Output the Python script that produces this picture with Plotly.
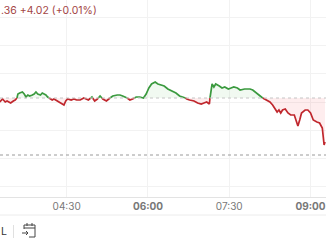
import plotly.graph_objects as go
import pandas as pd

DAY = "2024-01-01 "

times = ["03:16","03:18","03:19","03:22","03:24","03:26","03:28","03:31","03:33","03:35",
         "03:36","03:38","03:41","03:43","03:45","03:47","03:49","03:52","03:54","03:56",
         "03:58","04:01","04:03","04:05","04:07","04:09","04:12","04:14","04:16","04:18",
         "04:20","04:23","04:25","04:27","04:29","04:31","04:35","04:38","04:41","04:45",
         "04:49","04:54","04:58","05:01","05:04","05:07","05:10","05:14","05:18","05:21",
         "05:26","05:29","05:32","05:37","05:40","05:43","05:47","05:51","05:55","05:58",
         "06:01","06:04","06:08","06:11","06:14","06:18","06:22","06:27","06:31","06:35",
         "06:40","06:43","06:46","06:51","06:55","06:59","07:02","07:05","07:08","07:10",
         "07:11","07:13","07:15","07:19","07:22","07:25","07:29","07:32","07:35","07:39",
         "07:42","07:47","07:53","07:56","08:00","08:04","08:07","08:12","08:15","08:18",
         "08:21","08:23","08:25","08:27","08:29","08:32","08:35","08:38","08:42","08:45",
         "08:46","08:48","08:50","08:54","08:57","09:00","09:03","09:07","09:10","09:13",
         "09:14","09:15","09:16"]

values = [40298,40300,40301,40298,40299,40298,40297,40299,40300,40302,
          40306,40307,40308,40306,40303,40305,40304,40305,40306,40308,
          40306,40305,40307,40306,40305,40303,40301,40300,40301,40300,
          40299,40297,40296,40295,40299,40301,40300,40301,40300,40300,
          40302,40300,40303,40299,40301,40304,40301,40299,40302,40304,
          40305,40305,40304,40302,40300,40301,40303,40303,40302,40306,
          40312,40316,40318,40316,40315,40314,40311,40309,40307,40304,
          40303,40301,40300,40299,40297,40296,40297,40298,40296,40314,
          40316,40313,40316,40314,40312,40313,40311,40312,40313,40312,
          40310,40311,40311,40310,40307,40304,40302,40300,40298,40295,
          40291,40288,40290,40287,40290,40291,40287,40285,40285,40278,
          40274,40280,40287,40290,40290,40287,40280,40278,40277,40272,
          40265,40255,40258]

prev_close = 40302
marker_level = 40245

tick_vals = ["04:30", "06:00", "07:30", "09:00"]
tick_text = ["04:30", "<b>06:00</b>", "07:30", "<b>09:00</b>"]
header_text = ".36 +4.02 (+0.01%)"
range_text = "L"

GREEN = "#3b9a3f"
RED = "#c0272d"

t = pd.to_datetime([DAY + s for s in times])
tn = t.astype("int64").to_numpy()

# insert crossing points at the previous close
xs, ys = [], []
for i in range(len(values)):
    if i > 0:
        a, b = values[i - 1], values[i]
        if (a - prev_close) * (b - prev_close) < 0:
            f = (prev_close - a) / (b - a)
            xc = tn[i - 1] + f * (tn[i] - tn[i - 1])
            xs.append(xc)
            ys.append(prev_close)
    xs.append(tn[i])
    ys.append(values[i])
xd = pd.to_datetime(pd.Series(xs).astype("int64"))

up_line = [v if v >= prev_close else None for v in ys]
dn_line = [v if v <= prev_close else None for v in ys]
up_fill = [max(v, prev_close) for v in ys]
dn_fill = [min(v, prev_close) for v in ys]
base = [prev_close] * len(ys)

fig = go.Figure()
fig.add_trace(go.Scatter(x=xd, y=base, mode="lines", line=dict(width=0), hoverinfo="skip", showlegend=False))
fig.add_trace(go.Scatter(x=xd, y=up_fill, mode="lines", line=dict(width=0), fill="tonexty",
                         fillcolor="rgba(76,175,80,0.08)", hoverinfo="skip", showlegend=False))
fig.add_trace(go.Scatter(x=xd, y=base, mode="lines", line=dict(width=0), hoverinfo="skip", showlegend=False))
fig.add_trace(go.Scatter(x=xd, y=dn_fill, mode="lines", line=dict(width=0), fill="tonexty",
                         fillcolor="rgba(242,54,69,0.09)", hoverinfo="skip", showlegend=False))

fig.add_hline(y=prev_close, line=dict(color="#c4c4c4", width=1, dash="dot"))
fig.add_hline(y=marker_level, line=dict(color="#9a9a9a", width=1, dash="dot"))

fig.add_trace(go.Scatter(x=xd, y=dn_line, mode="lines", line=dict(color=RED, width=1.7),
                         connectgaps=False, showlegend=False))
fig.add_trace(go.Scatter(x=xd, y=up_line, mode="lines", line=dict(color=GREEN, width=1.7),
                         connectgaps=False, showlegend=False))

W, H, PB = 326, 245, 48
plot_h = H - PB

def py(px):
    return (plot_h - px) / plot_h

fig.update_layout(
    width=W, height=H,
    margin=dict(l=0, r=0, t=0, b=PB),
    paper_bgcolor="white", plot_bgcolor="white",
    font=dict(family="Inter, Roboto, sans-serif", size=10, color="#787878"),
    xaxis=dict(
        range=[pd.Timestamp(DAY + "03:16:12"), pd.Timestamp(DAY + "09:17:06")],
        tickvals=[pd.Timestamp(DAY + s) for s in tick_vals],
        ticktext=tick_text,
        showgrid=True, gridcolor="#f2f2f2", gridwidth=1,
        showline=True, linecolor="#e3e3e3", linewidth=1,
        ticks="", zeroline=False,
        tickfont=dict(size=10, color="#787878"),
    ),
    yaxis=dict(
        range=[40203, 40400],
        tick0=40298, dtick=28.33,
        showgrid=True, gridcolor="#f2f2f2", gridwidth=1,
        showticklabels=False, zeroline=False, showline=False, ticks="",
    ),
    showlegend=False,
)

# header
fig.add_annotation(xref="paper", yref="paper", x=-0.003, y=py(10), xanchor="left", yanchor="middle",
                   text=header_text, showarrow=False,
                   font=dict(size=10.5, color="#a34545", family="Inter, Roboto, sans-serif"))

# bottom separator line
fig.add_shape(type="line", xref="paper", yref="paper", x0=0, x1=1, y0=py(215), y1=py(215),
              line=dict(color="#ececec", width=1))

# bottom toolbar: range label, separator, calendar icon
fig.add_annotation(xref="paper", yref="paper", x=0, y=py(231), xanchor="left", yanchor="middle",
                   text=range_text, showarrow=False, xshift=-1,
                   font=dict(size=10.5, color="#333333", family="Inter, Roboto, sans-serif"))
fig.add_shape(type="line", xref="paper", yref="paper", x0=13.5 / W, x1=13.5 / W, y0=py(225), y1=py(238),
              line=dict(color="#e0e0e0", width=1))
# calendar icon
ic = "#444444"
fig.add_shape(type="path", xref="paper", yref="paper",
              path=f"M {24/W} {py(229)} L {24/W} {py(225)} L {35/W} {py(225)} L {35/W} {py(237)} L {29/W} {py(237)}",
              line=dict(color=ic, width=1))
fig.add_shape(type="line", xref="paper", yref="paper", x0=24 / W, x1=35 / W, y0=py(228), y1=py(228),
              line=dict(color=ic, width=1))
for xx in (27, 32):
    fig.add_shape(type="line", xref="paper", yref="paper", x0=xx / W, x1=xx / W, y0=py(223), y1=py(226),
                  line=dict(color=ic, width=1))
fig.add_shape(type="line", xref="paper", yref="paper", x0=22 / W, x1=28 / W, y0=py(233), y1=py(233),
              line=dict(color=ic, width=1))
fig.add_shape(type="path", xref="paper", yref="paper",
              path=f"M {26/W} {py(231)} L {28/W} {py(233)} L {26/W} {py(235)}",
              line=dict(color=ic, width=1))

fig.write_html("out.html")
